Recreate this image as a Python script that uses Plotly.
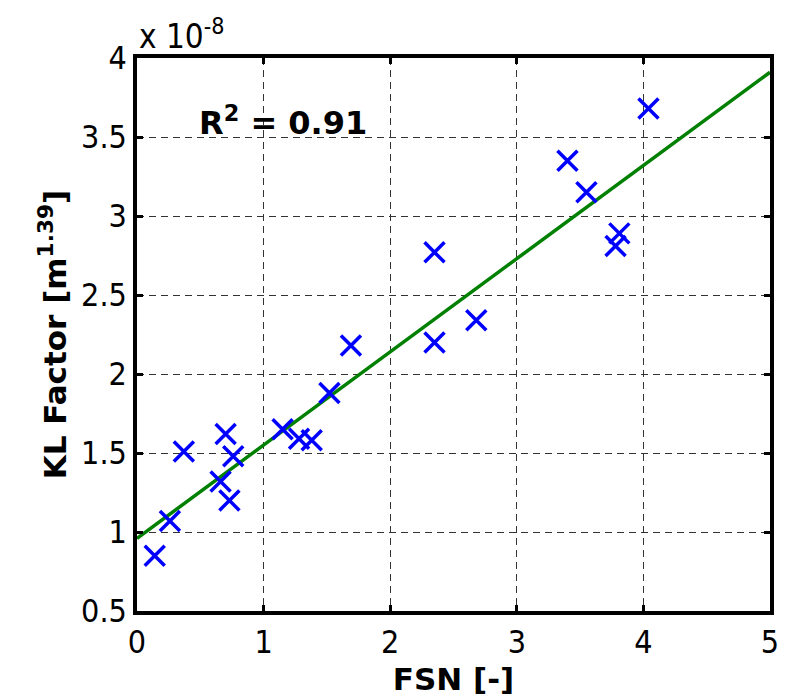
import plotly.graph_objects as go

# Data (KL factor in units of 1e-8 m^1.39)
fsn = [0.14, 0.26, 0.37, 0.70, 0.66, 0.76, 0.73, 1.15, 1.28, 1.38, 1.52, 1.69,
       2.35, 2.35, 2.68, 3.40, 3.55, 3.78, 3.81, 4.04]
kl = [0.85, 1.07, 1.51, 1.62, 1.32, 1.48, 1.20, 1.65, 1.59, 1.58, 1.88, 2.18,
      2.20, 2.77, 2.34, 3.35, 3.15, 2.81, 2.89, 3.68]
fit_x = [0, 5]
fit_y = [0.96, 3.91]
x_ticks = [0, 1, 2, 3, 4, 5]
y_ticks = [0.5, 1, 1.5, 2, 2.5, 3, 3.5, 4]
y_tick_text = ["0.5", "1", "1.5", "2", "2.5", "3", "3.5", "4"]

fig = go.Figure()
fig.add_trace(go.Scatter(x=fit_x, y=fit_y, mode="lines",
                         line=dict(color="#008000", width=3.5), showlegend=False))
fig.add_trace(go.Scatter(x=fsn, y=kl, mode="markers",
                         marker=dict(symbol="x-thin", size=20,
                                     line=dict(color="#0000ff", width=3.5),
                                     color="#0000ff"),
                         showlegend=False))

tickfont = dict(family="DejaVu Sans Condensed, DejaVu Sans", size=32, color="black")
axis_common = dict(showline=True, linecolor="black", linewidth=3.5, mirror="ticks",
                   ticks="inside", ticklen=6, tickwidth=2.5, tickcolor="black",
                   showgrid=True, gridcolor="#333333", gridwidth=1, griddash="7px,5px",
                   zeroline=False, tickfont=tickfont)

fig.update_xaxes(range=[0, 5], tickvals=x_ticks, **axis_common,
                 title=dict(text="<b>FSN [-]</b>",
                            font=dict(family="DejaVu Sans", size=31, color="black"),
                            standoff=4))
fig.update_yaxes(range=[0.5, 4], tickvals=y_ticks, ticktext=y_tick_text, **axis_common,
                 title=dict(text="<b>KL Factor [m<sup>1.39</sup>]</b>",
                            font=dict(family="DejaVu Sans", size=31, color="black"),
                            standoff=6))

fig.add_annotation(x=1.15, y=3.6, xref="x", yref="y",
                   text="<b>R<sup>2</sup> = 0.91</b>", showarrow=False,
                   font=dict(family="DejaVu Sans", size=32, color="black"))
fig.add_annotation(x=0, y=1, xref="paper", yref="paper", xanchor="left", yanchor="bottom",
                   text="x 10<sup>-8</sup>", showarrow=False, yshift=0,
                   font=dict(family="DejaVu Sans Condensed, DejaVu Sans", size=33, color="black"))

fig.update_layout(width=787, height=700,
                  margin=dict(l=129, r=25, t=50, b=97),
                  paper_bgcolor="white", plot_bgcolor="white")

fig.write_html("out.html")
